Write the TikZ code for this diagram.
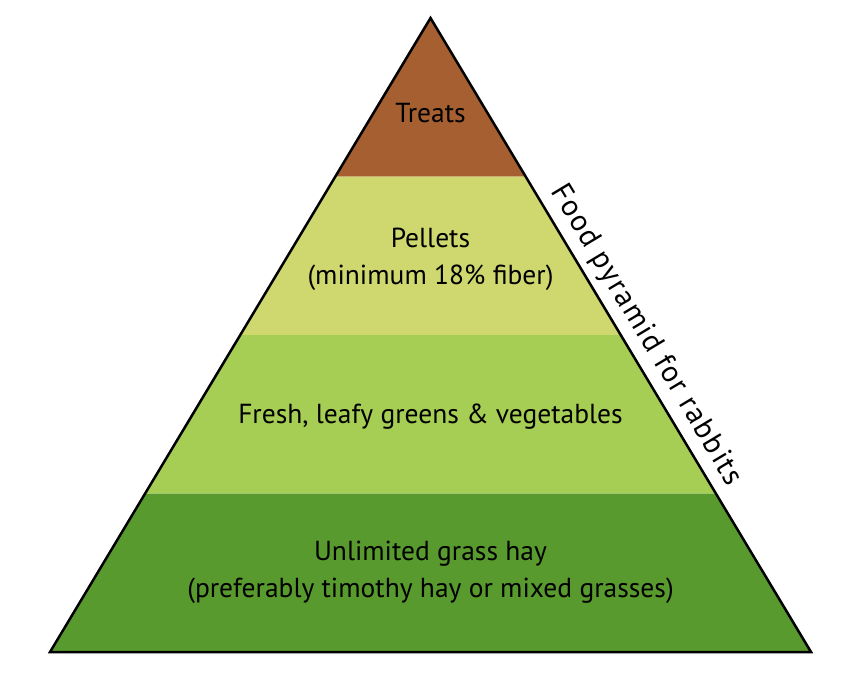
\documentclass[tikz,border=0pt]{standalone}
\usepackage{fontspec}
\setmainfont{PT Sans}
\usetikzlibrary{calc}
\definecolor{treats}{RGB}{166,95,48}
\definecolor{pellets}{RGB}{206,216,110}
\definecolor{greens}{RGB}{166,205,84}
\definecolor{hay}{RGB}{89,154,46}
\tikzset{level/.style={align=center,font=\fontsize{27.5}{37}\selectfont,anchor=base}}
\begin{document}
\begin{tikzpicture}[x=1pt,y=-1pt]
\useasboundingbox (0,0) rectangle (861,678);
\coordinate (apex) at (430.5,18);
\coordinate (bl) at (50,652);
\coordinate (br) at (811,652);
% bands, equal heights
\foreach \a/\b/\c in {0/.25/treats,.25/.5/pellets,.5/.75/greens,.75/1/hay}
  \fill[\c] ($(apex)!\a!(bl)$) -- ($(apex)!\b!(bl)$) -- ($(apex)!\b!(br)$) -- ($(apex)!\a!(br)$) -- cycle;
\draw[line width=2.5pt] (apex) -- (bl) -- (br) -- cycle;
\node[level] (treatstext) at (430.5,122) {Treats};
\node[level] (pelletstext) at (430.5,284) {Pellets\\(minimum 18\% fiber)};
\node[level] (greenstext) at (430.5,423) {Fresh, leafy greens \& vegetables};
\node[level] (haytext) at (430.5,597) {Unlimited grass hay\\(preferably timothy hay or mixed grasses)};
% title along the right edge
\coordinate (mid) at ($(apex)!.518!(br)$);
\coordinate (titlebase) at ($(mid)!14pt!90:(br)$);
\node[anchor=base,rotate=-59.03,inner sep=0pt,font=\fontsize{30}{32}\selectfont\addfontfeatures{LetterSpace=5}] (title) at (titlebase) {Food pyramid for rabbits};
\end{tikzpicture}
\end{document}
